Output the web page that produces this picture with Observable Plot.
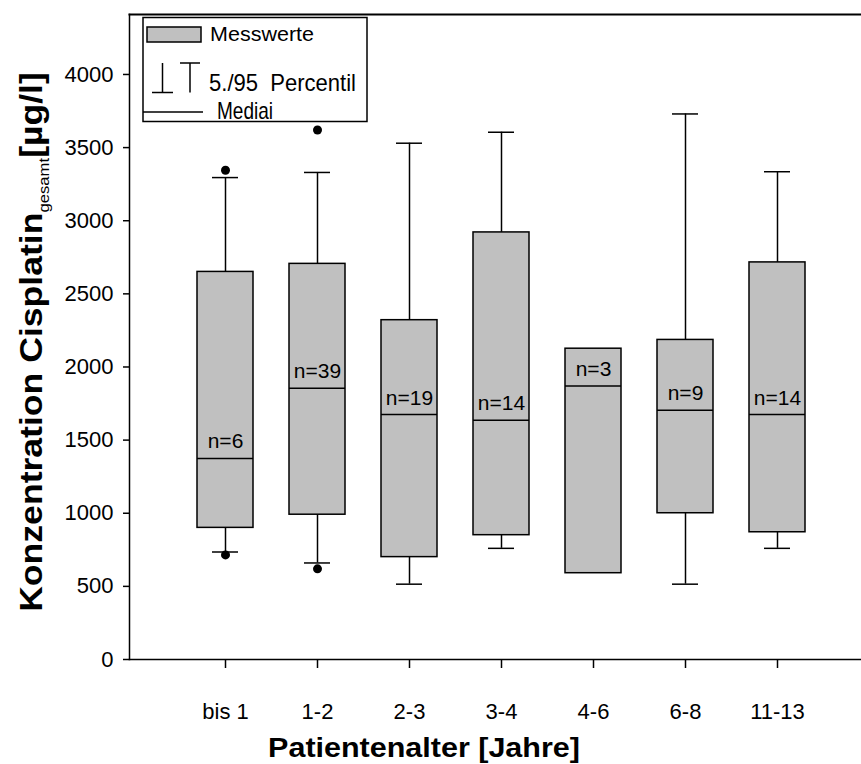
<!DOCTYPE html>
<html>
<head>
<meta charset="utf-8">
<script src="https://cdn.jsdelivr.net/npm/d3@7"></script>
<script src="https://cdn.jsdelivr.net/npm/@observablehq/plot@0.6"></script>
<style>
  html, body { margin: 0; padding: 0; background: #fff; }
  #chart { width: 861px; height: 764px; overflow: hidden; position: relative; }
  #chart svg { overflow: hidden; }
</style>
</head>
<body>
<div id="chart"></div>
<script>
// Cisplatin concentration by patient age group (box = quartiles, whiskers = 5./95. percentile)
const categories = ["bis 1", "1-2", "2-3", "3-4", "4-6", "6-8", "11-13"];
const q1     = [900, 990, 700, 850, 590, 1000, 870];
const median = [1375, 1855, 1675, 1635, 1870, 1705, 1675];
const q3     = [2650, 2705, 2320, 2920, 2125, 2185, 2715];
const p5     = [735, 660, 515, 760, null, 515, 760];
const p95    = [3295, 3330, 3530, 3605, null, 3730, 3335];
const counts = [6, 39, 19, 14, 3, 9, 14];

// values outside the 5./95. percentile range
const outlierGroups = ["bis 1", "bis 1", "1-2", "1-2"];
const outlierValues = [3345, 715, 3620, 620];

const yTicks = [0, 500, 1000, 1500, 2000, 2500, 3000, 3500, 4000];

const rows = categories.map((c, i) => ({
  group: c, q1: q1[i], median: median[i], q3: q3[i], p5: p5[i], p95: p95[i], n: counts[i]
}));
const whiskers = rows.filter(d => d.p5 != null);
const outliers = outlierGroups.map((g, i) => ({group: g, value: outlierValues[i]}));

const font = "'Liberation Sans', Arial, sans-serif";

const chart = Plot.plot({
  width: 861,
  height: 764,
  marginLeft: 129,
  marginRight: 0,
  marginTop: 14,
  marginBottom: 105,
  style: {fontFamily: font, fontSize: "22px", color: "#000", background: "#fff"},
  x: {type: "band", domain: categories, range: [130, 872], paddingInner: 0.39, paddingOuter: 0.695, align: 0.5, label: null},
  y: {domain: [0, 4410], label: null},
  marks: [
    Plot.frame({anchor: "top", stroke: "#000", strokeWidth: 2}),
    Plot.frame({anchor: "left", stroke: "#000", strokeWidth: 1.5}),
    Plot.frame({anchor: "bottom", stroke: "#000", strokeWidth: 1.5}),
    Plot.axisY({ticks: yTicks, tickSize: 6, tickPadding: 10, label: null, stroke: "#000", strokeWidth: 1.5,
                tickFormat: d => String(d)}),
    Plot.axisX({tickSize: 9, tickPadding: 35, label: null, stroke: "#000", strokeWidth: 1.5}),
    // whiskers
    Plot.ruleX(whiskers, {x: "group", y1: "q3", y2: "p95", stroke: "#000", strokeWidth: 1.5}),
    Plot.ruleX(whiskers, {x: "group", y1: "p5", y2: "q1", stroke: "#000", strokeWidth: 1.5}),
    Plot.tickY(whiskers, {x: "group", y: "p95", insetLeft: 15, insetRight: 15, stroke: "#000", strokeWidth: 1.5}),
    Plot.tickY(whiskers, {x: "group", y: "p5", insetLeft: 15, insetRight: 15, stroke: "#000", strokeWidth: 1.5}),
    // boxes
    Plot.barY(rows, {x: "group", y1: "q1", y2: "q3", fill: "#c0c0c0", stroke: "#000", strokeWidth: 1.5}),
    Plot.tickY(rows, {x: "group", y: "median", stroke: "#000", strokeWidth: 1.5}),
    Plot.text(rows, {x: "group", y: "median", text: d => `n=${d.n}`, lineAnchor: "bottom", dy: -10, fontSize: 21, fill: "#000"}),
    Plot.dot(outliers, {x: "group", y: "value", r: 4.5, fill: "#000", stroke: null})
  ]
});

document.getElementById("chart").append(chart);

const svg = d3.select(chart);

// scale factor that stretches a text element to a given length
function fitLength(sel, target) {
  const len = sel.node().getComputedTextLength();
  return target / len;
}

// y axis title with subscript
const yTitle = svg.append("text")
  .attr("font-family", font)
  .attr("font-weight", "bold")
  .attr("font-size", 32)
  .attr("fill", "#000")
  .attr("text-anchor", "middle");
yTitle.append("tspan").text("Konzentration Cisplatin");
yTitle.append("tspan").attr("font-size", 15).attr("font-weight", "normal").attr("dy", 7).text("gesamt");
yTitle.append("tspan").attr("dy", -7).text("[µg/l]");
const sy = fitLength(yTitle, 540);
yTitle.attr("transform", `translate(42,342) rotate(-90) scale(${sy},1)`);

// x axis title
const xTitle = svg.append("text")
  .attr("font-family", font)
  .attr("font-weight", "bold")
  .attr("font-size", 28)
  .attr("fill", "#000")
  .attr("text-anchor", "middle")
  .text("Patientenalter [Jahre]");
const sx = fitLength(xTitle, 312);
xTitle.attr("transform", `translate(424,757) scale(${sx},1)`);

// legend
const lg = svg.append("g").attr("font-family", font).attr("fill", "#000").attr("text-anchor", "start");
lg.append("rect").attr("x", 143).attr("y", 17.5).attr("width", 224).attr("height", 104)
  .attr("fill", "#fff").attr("stroke", "#000").attr("stroke-width", 1.5);
lg.append("rect").attr("x", 147).attr("y", 27).attr("width", 54).attr("height", 15)
  .attr("fill", "#c0c0c0").attr("stroke", "#000").attr("stroke-width", 1.5);
lg.append("text").attr("x", 210).attr("y", 41).attr("font-size", 20)
  .attr("textLength", 104).attr("lengthAdjust", "spacingAndGlyphs").text("Messwerte");
const sym = lg.append("g").attr("stroke", "#000").attr("stroke-width", 1.5).attr("fill", "none");
sym.append("line").attr("x1", 162.5).attr("x2", 162.5).attr("y1", 63).attr("y2", 92.5);
sym.append("line").attr("x1", 152).attr("x2", 173).attr("y1", 92.5).attr("y2", 92.5);
sym.append("line").attr("x1", 190).attr("x2", 190).attr("y1", 63).attr("y2", 92.5);
sym.append("line").attr("x1", 180).attr("x2", 200).attr("y1", 63).attr("y2", 63);
lg.append("text").attr("x", 209).attr("y", 91).attr("font-size", 24)
  .attr("textLength", 147).attr("lengthAdjust", "spacingAndGlyphs").text("5./95  Percentil");
lg.append("line").attr("x1", 143).attr("x2", 203).attr("y1", 112).attr("y2", 112)
  .attr("stroke", "#000").attr("stroke-width", 1.5);
lg.append("text").attr("x", 217).attr("y", 119).attr("font-size", 24)
  .attr("textLength", 56).attr("lengthAdjust", "spacingAndGlyphs").text("Mediai");
</script>
</body>
</html>
